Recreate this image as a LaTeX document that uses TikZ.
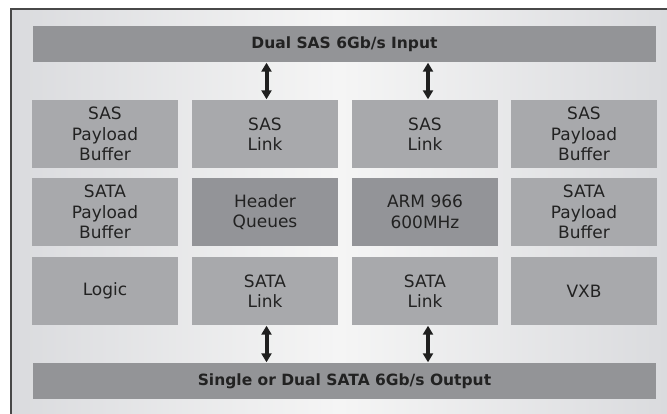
\documentclass[tikz,border=0pt]{standalone}
\usepackage{fontspec}
\setmainfont{DejaVu Sans}
\usetikzlibrary{arrows.meta}
\definecolor{boxgray}{HTML}{A8A9AC}
\definecolor{darkbox}{HTML}{939498}
\definecolor{bargray}{HTML}{939497}
\definecolor{txt}{HTML}{222222}
\definecolor{bgside}{HTML}{DADBDE}
\definecolor{bgmid}{HTML}{F5F5F5}
\definecolor{framecol}{HTML}{484848}
\begin{document}
\begin{tikzpicture}[x=1pt,y=-1pt,
  blk/.style={fill=boxgray,draw=none,minimum width=146pt,minimum height=68pt,
    inner sep=0pt,text=txt,align=center,font=\fontsize{17}{20.5}\selectfont},
  dblk/.style={blk,fill=darkbox},
  bar/.style={fill=bargray,draw=none,minimum width=623pt,minimum height=36pt,
    inner sep=0pt,text=txt,font=\fontsize{15.5}{18}\selectfont\bfseries},
  bigarrow/.style={draw=black!88,line width=4pt,
    {Triangle[length=9pt,width=10pt]}-{Triangle[length=9pt,width=10pt]},shorten <=0.5pt,shorten >=0.5pt}]
\useasboundingbox (0,0) rectangle (667,413);
\fill[white] (0,0) rectangle (667,413);
\shade[left color=bgside,right color=bgside,middle color=bgmid] (11,9) rectangle (667,413);
\draw[framecol,line width=1.5pt] (11,420) -- (11,9) -- (680,9);
% bars
\node[bar] (top) at (344.5,44) {Dual SAS 6Gb/s Input};
\node[bar] (bot) at (344.5,381) {Single or Dual SATA 6Gb/s Output};
% row 1
\node[blk] (sp1) at (105,134) {SAS\\Payload\\Buffer};
\node[blk] (sl1) at (265,134) {SAS\\Link};
\node[blk] (sl2) at (425,134) {SAS\\Link};
\node[blk] (sp2) at (584,134) {SAS\\Payload\\Buffer};
% row 2
\node[blk] (tp1) at (105,212) {SATA\\Payload\\Buffer};
\node[dblk] (hq) at (265,212) {Header\\Queues};
\node[dblk] (arm) at (425,212) {ARM 966\\600MHz};
\node[blk] (tp2) at (584,212) {SATA\\Payload\\Buffer};
% row 3
\node[blk] (lg) at (105,291) {Logic};
\node[blk] (tl1) at (265,291) {SATA\\Link};
\node[blk] (tl2) at (425,291) {SATA\\Link};
\node[blk] (vxb) at (584,291) {VXB};
% arrows
\draw[bigarrow] ([xshift=1.5pt]sl1.north |- top.south) -- ([xshift=1.5pt]sl1.north);
\draw[bigarrow] ([xshift=3pt]sl2.north |- top.south) -- ([xshift=3pt]sl2.north);
\draw[bigarrow] ([xshift=1.5pt]tl1.south) -- ([xshift=1.5pt]tl1.south |- bot.north);
\draw[bigarrow] ([xshift=3pt]tl2.south) -- ([xshift=3pt]tl2.south |- bot.north);
\end{tikzpicture}
\end{document}
